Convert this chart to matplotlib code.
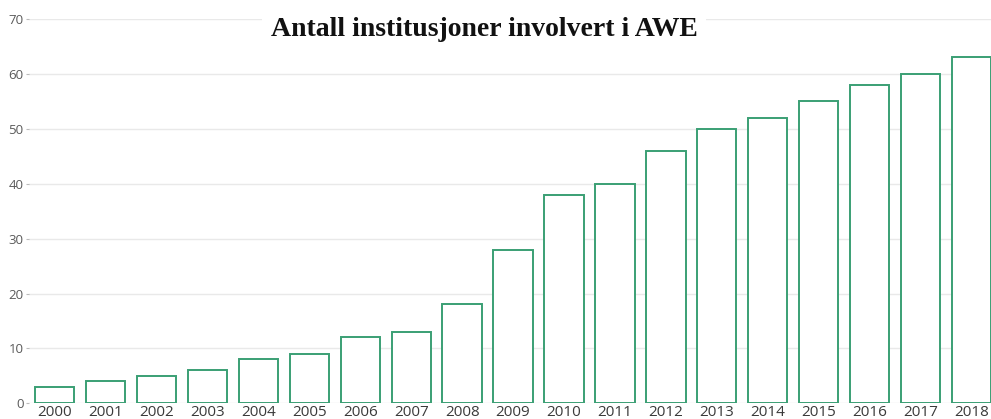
import matplotlib
matplotlib.use("Agg")
import matplotlib.pyplot as plt

years = ["2000", "2001", "2002", "2003", "2004", "2005", "2006", "2007", "2008", "2009",
         "2010", "2011", "2012", "2013", "2014", "2015", "2016", "2017", "2018"]
institutions = [3, 4, 5, 6, 8, 9, 12, 13, 18, 28, 38, 40, 46, 50, 52, 55, 58, 60, 63]
y_ticks = [0, 10, 20, 30, 40, 50, 60, 70]

title = "Antall institusjoner involvert i AWE"
bar_edge = "#3a9f74"

fig = plt.figure(figsize=(9.91, 4.19), dpi=100)
ax = fig.add_axes([29 / 991, 1 - 403.3 / 419, 1 - 29 / 991, (403.3 - 19) / 419])

x = list(range(len(years)))
ax.bar(x, institutions, width=0.77, facecolor="white", edgecolor=bar_edge,
       linewidth=1.4, zorder=3)

ax.set_xlim(-0.5, 18.38)
ax.set_ylim(0, 70)
ax.set_yticks(y_ticks)
ax.set_yticklabels([str(t) for t in y_ticks], fontsize=9.5, color="#5a5a5a",
                   family="Open Sans")
ax.set_xticks(x)
ax.set_xticklabels(years, fontsize=11, color="#3a3a3a", family="Open Sans")

ax.grid(axis="y", color="#e9e9e9", linewidth=1, zorder=0)
for side in ["top", "right", "left", "bottom"]:
    ax.spines[side].set_visible(False)
ax.tick_params(axis="y", length=2, width=0.8, color="#bbbbbb", pad=2)
ax.tick_params(axis="x", length=0, pad=1.5)

fig.text(484 / 991, 1 - 29 / 419, title, ha="center", va="center",
         fontsize=20, fontweight="bold", family="Liberation Serif", color="#111111",
         bbox=dict(facecolor="white", edgecolor="none", pad=6), zorder=5)

fig.savefig("out.png", dpi=100, facecolor="white")
